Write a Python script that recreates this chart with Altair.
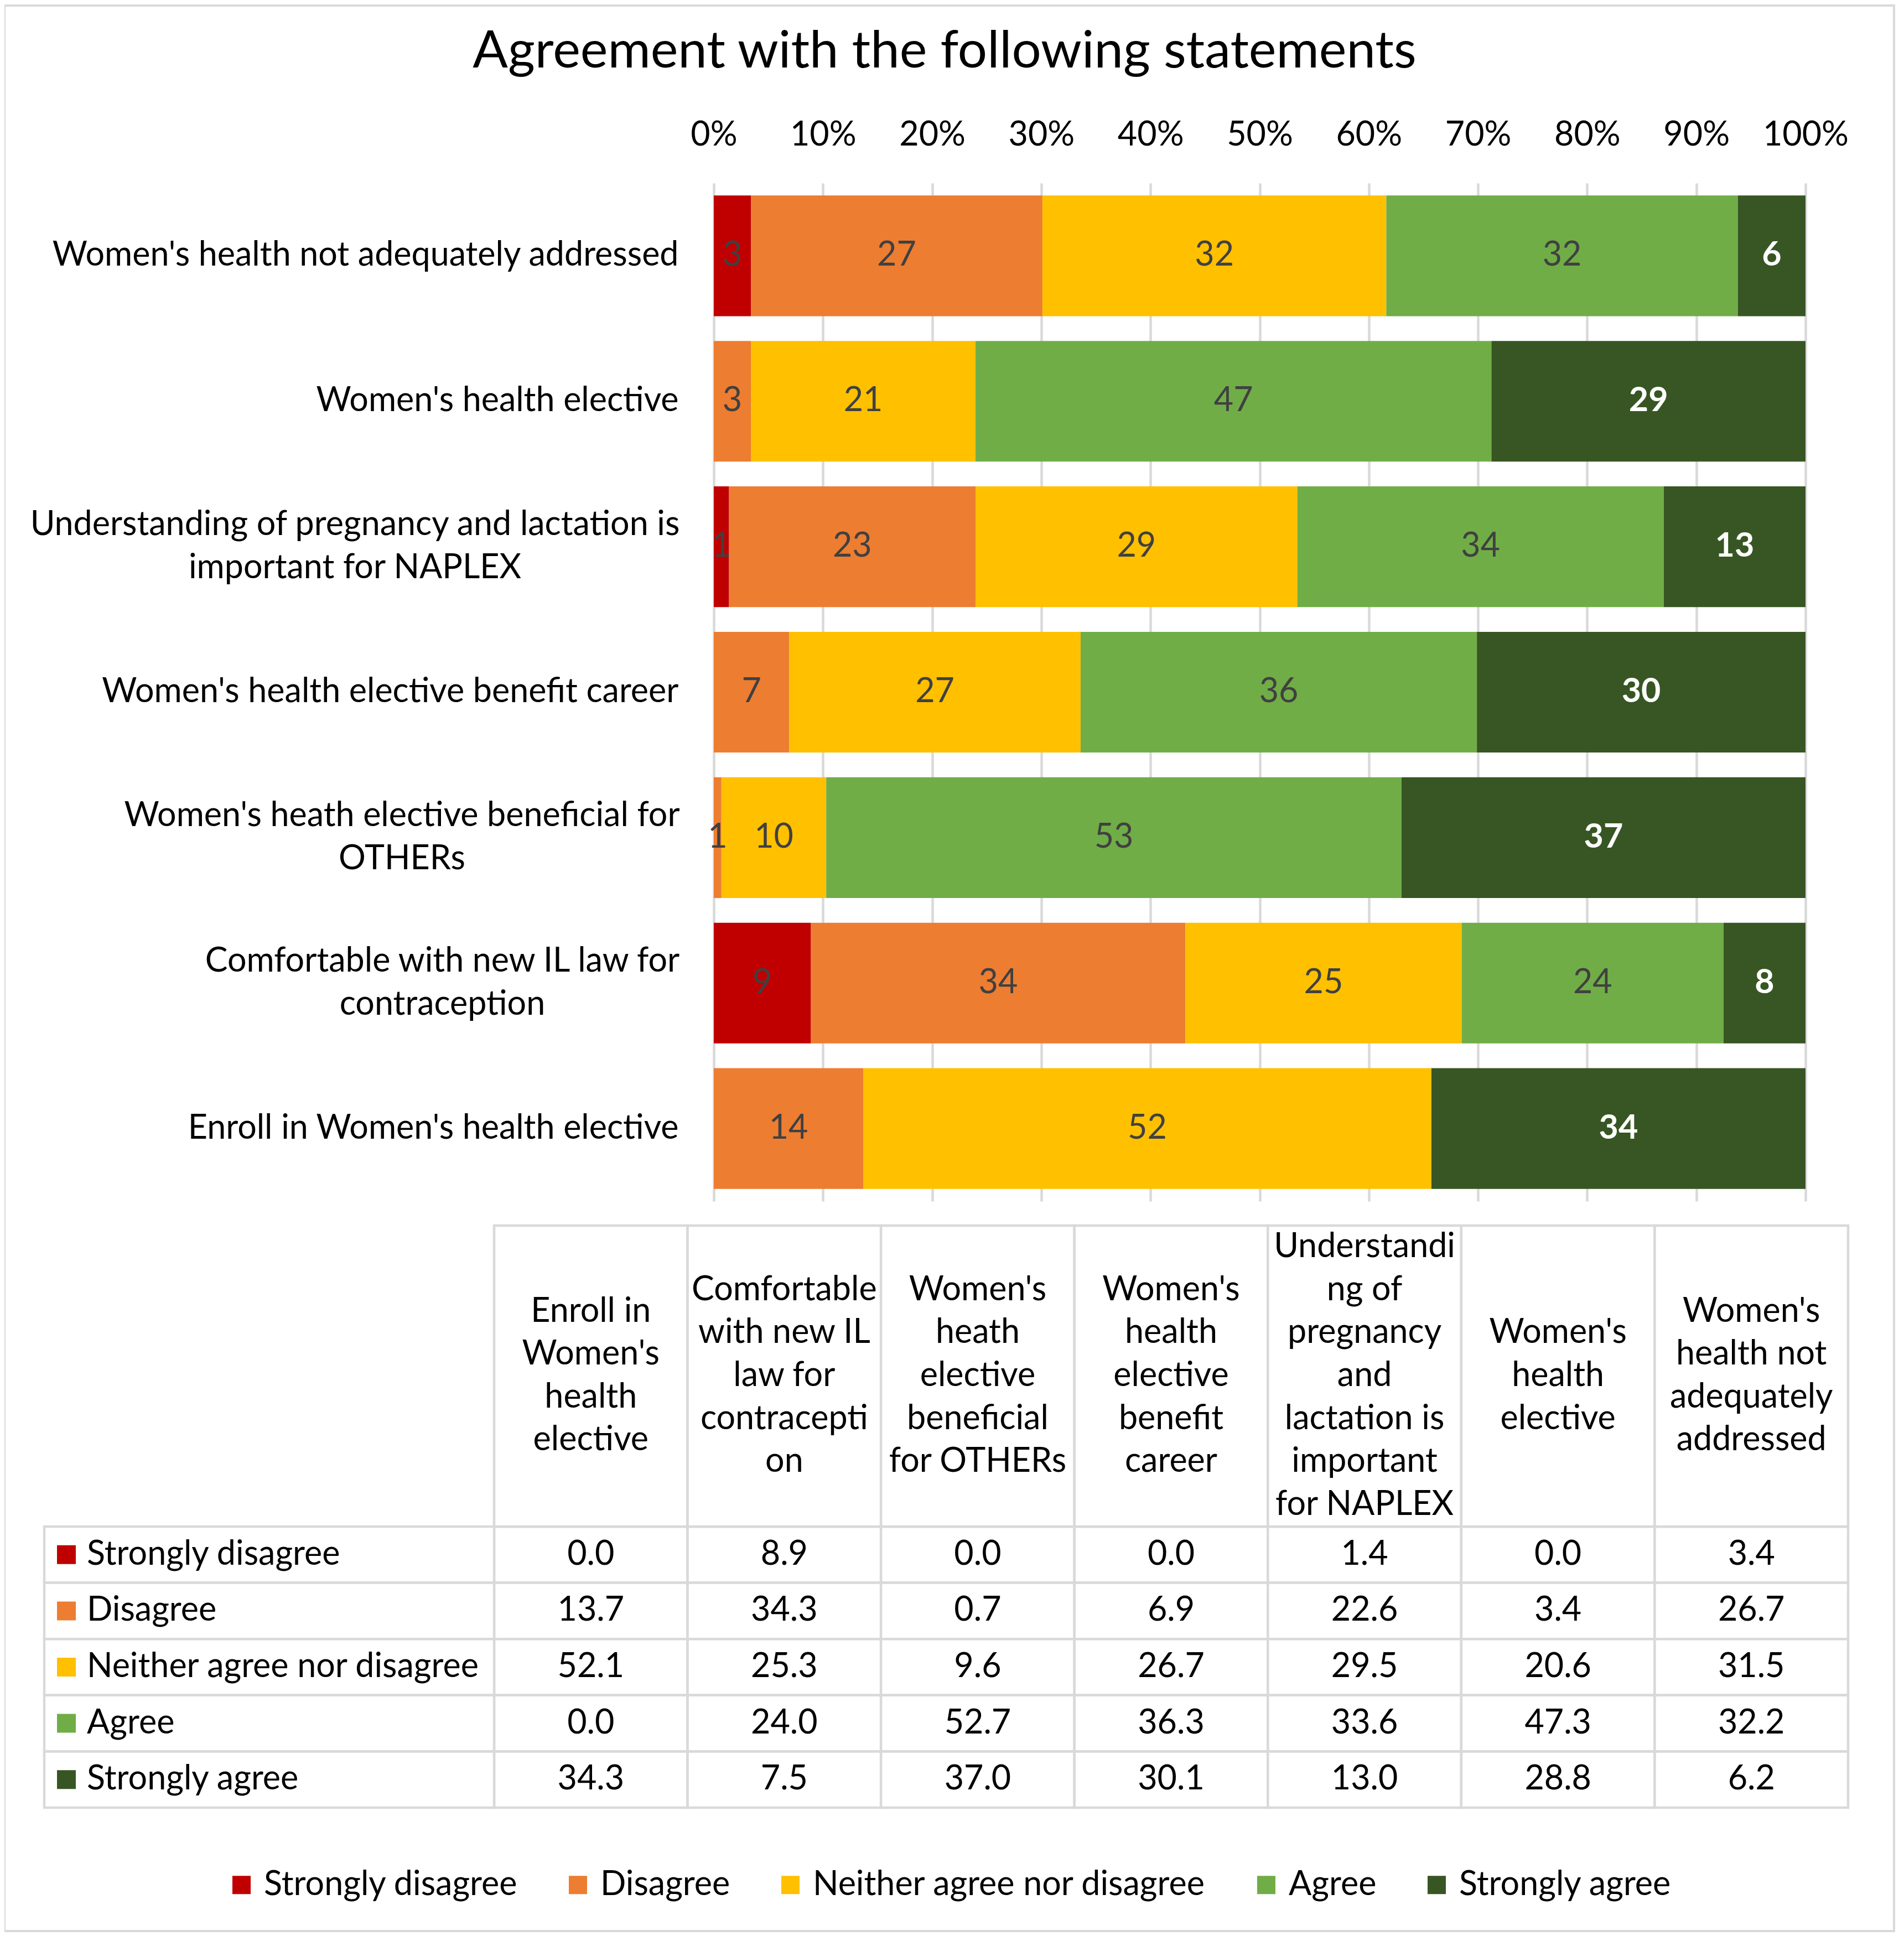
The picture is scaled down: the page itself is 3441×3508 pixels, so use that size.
import altair as alt
import pandas as pd

FONT = "Lato"
FS = 61
LH = 77.6
GRID = "#d9d9d9"

# ---------------- data ----------------
statements = [
    "Enroll in Women's health elective",
    "Comfortable with new IL law for contraception",
    "Women's heath elective beneficial for OTHERs",
    "Women's health elective benefit career",
    "Understanding of pregnancy and lactation is important for NAPLEX",
    "Women's health elective",
    "Women's health not adequately addressed",
]
axis_labels = [
    "Enroll in Women's health elective",
    "Comfortable with new IL law for|contraception",
    "Women's heath elective beneficial for|OTHERs",
    "Women's health elective benefit career",
    "Understanding of pregnancy and lactation is|important for NAPLEX",
    "Women's health elective",
    "Women's health not adequately addressed",
]
header_labels = [
    "Enroll in|Women's|health|elective",
    "Comfortable|with new IL|law for|contracepti|on",
    "Women's|heath|elective|beneficial|for OTHERs",
    "Women's|health|elective|benefit|career",
    "Understandi|ng of|pregnancy|and|lactation is|important|for NAPLEX",
    "Women's|health|elective",
    "Women's|health not|adequately|addressed",
]
categories = ["Strongly disagree", "Disagree", "Neither agree nor disagree", "Agree", "Strongly agree"]
colors = ["#C00000", "#ED7D31", "#FFC000", "#70AD47", "#375623"]

strongly_disagree = [0.0, 8.9, 0.0, 0.0, 1.4, 0.0, 3.4]
disagree = [13.7, 34.3, 0.7, 6.9, 22.6, 3.4, 26.7]
neither = [52.1, 25.3, 9.6, 26.7, 29.5, 20.6, 31.5]
agree = [0.0, 24.0, 52.7, 36.3, 33.6, 47.3, 32.2]
strongly_agree = [34.3, 7.5, 37.0, 30.1, 13.0, 28.8, 6.2]

# data labels as printed on the bars
sd_lbl = [0, 9, 0, 0, 1, 0, 3]
d_lbl = [14, 34, 1, 7, 23, 3, 27]
n_lbl = [52, 25, 10, 27, 29, 21, 32]
a_lbl = [0, 24, 53, 36, 34, 47, 32]
sa_lbl = [34, 8, 37, 30, 13, 29, 6]

ticks = [0, 0.1, 0.2, 0.3, 0.4, 0.5, 0.6, 0.7, 0.8, 0.9, 1.0]
title_text = "Agreement with the following statements"

cat_values = [strongly_disagree, disagree, neither, agree, strongly_agree]
cat_labels = [sd_lbl, d_lbl, n_lbl, a_lbl, sa_lbl]
rows = []
for i, s in enumerate(statements):
    for j, c in enumerate(categories):
        rows.append(dict(statement=s, axis_label=axis_labels[i], category=c, order=j,
                         value=cat_values[j][i], label=cat_labels[j][i]))
df = pd.DataFrame(rows)
hdr = pd.DataFrame({"statement": statements, "header": header_labels})
cat_df = pd.DataFrame({"category": categories})
one = pd.DataFrame({"t": [title_text]})

# ---------------- layout (pixels relative to plot origin) ----------------
W, H = 1973, 1840
T_X0, T_X1 = -397, 2050
T_Y0, T_Y1 = 2428, 2936
HY0, HY1 = 1884, 2428
HYC = (HY0 + HY1) / 2
RH_X0 = -1210
LPAD = 64
# half-widths of the first line of the wrapped axis labels (to centre the two lines)
half_w = {
    "Comfortable with new IL law for|contraception": 427,
    "Women's heath elective beneficial for|OTHERs": 500,
    "Understanding of pregnancy and lactation is|important for NAPLEX": 585,
}
pad_expr = "".join(
    f"datum.value == {repr(k)} ? {LPAD + v} : " for k, v in half_w.items()
) + f"{LPAD}"

color_scale = alt.Scale(domain=categories, range=colors)

# ---------------- bar chart ----------------
y_order = axis_labels[::-1]
base = alt.Chart(df).transform_stack(
    stack="value", groupby=["statement"], as_=["x0", "x1"],
    sort=[alt.SortField("order", order="ascending")], offset="normalize"
).transform_calculate(mid="(datum.x0 + datum.x1) / 2")

multi_test = "indexof(datum.value, '|') >= 0"
ybar = alt.Y(
    "axis_label:N",
    scale=alt.Scale(domain=y_order, paddingInner=0.17, paddingOuter=0.085),
    axis=alt.Axis(
        title=None, labelExpr="split(datum.value, '|')", labelFont=FONT,
        labelFontSize=FS, labelColor="black", labelLimit=1400,
        ticks=False, domain=False, grid=False, labelLineHeight=78,
        labelOffset={"condition": {"test": multi_test, "value": -39}, "value": 0},
        labelAlign={"condition": {"test": multi_test, "value": "center"}, "value": "right"},
        labelPadding={"condition": [
            {"test": f"datum.value == {repr(k)}", "value": LPAD + v} for k, v in half_w.items()
        ], "value": LPAD},
    ),
)
xbar = alt.X(
    "x0:Q",
    scale=alt.Scale(domain=[0, 1], nice=False),
    axis=alt.Axis(orient="top", values=ticks, format=".0%", title=None, grid=True,
                  gridColor=GRID, gridWidth=4.5, ticks=False, domain=False, labelOverlap=False,
                  labelFlush=False, labelBound=False,
                  labelFont=FONT, labelFontSize=FS, labelColor="black", labelPadding=56),
)

bars = base.mark_bar(strokeWidth=0).encode(
    x=xbar, x2="x1:Q", y=ybar,
    color=alt.Color("category:N", scale=color_scale, title=None),
)
lbl_dark = base.transform_filter(
    "datum.value > 0 && datum.category != 'Strongly agree'"
).mark_text(font=FONT, fontSize=FS, color="#404040", baseline="middle").encode(
    x="mid:Q", y="axis_label:N", text="label:Q"
)
lbl_light = base.transform_filter(
    "datum.value > 0 && datum.category == 'Strongly agree'"
).mark_text(font=FONT, fontSize=FS, color="white", fontWeight="bold", baseline="middle").encode(
    x="mid:Q", y="axis_label:N", text="label:Q"
)
bar_layer = alt.layer(bars, lbl_dark, lbl_light)

# ---------------- data table ----------------
def xt():
    return alt.X("statement:N", scale=alt.Scale(domain=statements, range=[T_X0, T_X1],
                                                paddingInner=0, paddingOuter=0), axis=None)

yt = alt.Y("category:N", scale=alt.Scale(domain=categories, range=[T_Y0, T_Y1],
                                         paddingInner=0, paddingOuter=0), axis=None)

cells = alt.Chart(df).mark_rect(fill="white", stroke=GRID, strokeWidth=4.5).encode(x=xt(), y=yt)
row_cells = alt.Chart(cat_df).mark_rect(fill="white", stroke=GRID, strokeWidth=4.5).encode(
    x=alt.value(RH_X0), x2=alt.value(T_X0), y=yt)
val_text = alt.Chart(df).mark_text(font=FONT, fontSize=FS, color="black", baseline="middle").encode(
    x=xt(), y=yt, text=alt.Text("value:Q", format=".1f"))
squares = alt.Chart(cat_df).mark_square(size=1156, opacity=1, strokeWidth=0).encode(
    x=alt.value(-1170), y=yt, color=alt.Color("category:N", scale=color_scale, title=None))
row_text = alt.Chart(cat_df).mark_text(font=FONT, fontSize=FS, color="black", align="left",
                                        baseline="middle").encode(
    x=alt.value(-1133), y=yt, text="category:N")
table_layer = alt.layer(cells, row_cells, val_text, squares, row_text)

hdr_cells = alt.Chart(hdr).mark_rect(fill="white", stroke=GRID, strokeWidth=4.5).encode(
    x=xt(), y=alt.value(HY0), y2=alt.value(HY1))
hdr_text = alt.Chart(hdr).transform_calculate(
    lines="split(datum.header, '|')"
).transform_calculate(
    hy=f"{HYC} - (length(datum.lines) - 1) * {LH} / 2"
).mark_text(
    font=FONT, fontSize=FS, color="black", lineHeight=LH, baseline="middle", align="center"
).encode(x=xt(), y=alt.Y("hy:Q", scale=None, axis=None), text="lines:N")

# ---------------- title & frame ----------------
title = alt.Chart(one).mark_text(font=FONT, fontSize=94, color="black", align="center",
                                 baseline="middle").encode(
    x=alt.value(417), y=alt.value(-237), text="t:N")
frame = alt.Chart(one).mark_rect(fill=None, stroke=GRID, strokeWidth=4).encode(
    x=alt.value(-1282), x2=alt.value(2133), y=alt.value(-321), y2=alt.value(3159))

chart = alt.layer(frame, bar_layer, table_layer, hdr_cells, hdr_text, title).resolve_scale(
    x="independent", y="independent"
).properties(
    width=W, height=H,
    autosize=alt.AutoSizeParams(type="none"),
    padding={"left": 1282, "top": 323, "right": 165, "bottom": 1322},
).configure_view(stroke=None).configure_legend(
    orient="none", legendX=-884, legendY=3045, direction="horizontal", columns=5,
    symbolType="square", symbolSize=1089, symbolStrokeWidth=0,
    labelFont=FONT, labelFontSize=FS, labelColor="black", labelLimit=2000,
    columnPadding=78, labelOffset=10, padding=0,
)

chart.save("out.html", embed_options={"renderer": "svg", "actions": False})
